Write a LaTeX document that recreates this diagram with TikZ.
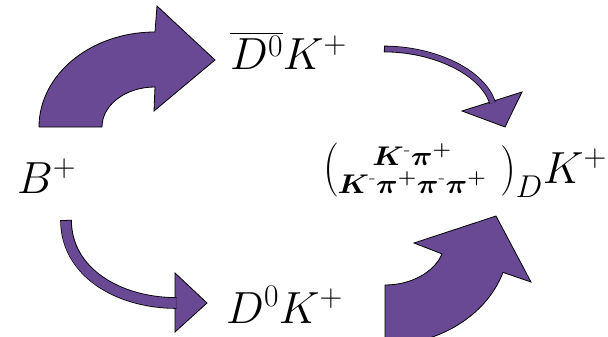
\documentclass[tikz,border=0pt]{standalone}
\usepackage{fix-cm}
\usepackage{amsmath,bm,graphicx}
\definecolor{arrowpurple}{RGB}{105,73,148}
\tikzset{
  bigarrow/.style={fill=arrowpurple, draw=black, line width=0.8pt, line join=miter},
  headtri/.style={fill=arrowpurple, draw=black, line width=0.8pt, line join=miter},
  lbl/.style={inner sep=0pt, font=\fontsize{45}{54}\selectfont},
  stk/.style={inner sep=0pt, font=\fontsize{27}{29}\selectfont},
}
\begin{document}
\begin{tikzpicture}[x=1pt,y=1pt]
\useasboundingbox (0,0) rectangle (608,-337);
\clip (0,0) rectangle (608,-337);

% labels
\node[lbl, anchor=base west] (B) at (17,-193) {$B^{+}$};
\node[lbl, anchor=base west] (Dbar) at (230,-70) {$\overline{D^{0}}K^{+}$};
\node[lbl, anchor=base west] (D) at (226,-323) {$D^{0}K^{+}$};
\node[lbl, anchor=base west] (lp) at (323,-183.5) {\scalebox{1}[1.2]{$($}};
\node[stk, anchor=base] (st1) at (412,-165) {\scalebox{1.12}[1]{$\bm{K^{\text{-}}\pi^{+}}$}};
\node[stk, anchor=base] (st2) at (412,-193) {\scalebox{1.12}[1]{$\bm{K^{\text{-}}\pi^{+}\pi^{\text{-}}\pi^{+}}$}};
\node[lbl, anchor=base east] (fin) at (607,-183) {$\scalebox{1}[1.12]{$)$}_{D}K^{+}$};

% big curved arrow B+ -> Dbar K+
\filldraw[bigarrow] (39,-127) arc[start angle=180, end angle=90, x radius=116, y radius=95]
  -- (157,-6) -- (215,-60) -- (154,-111) -- (155,-87)
  arc[start angle=90, end angle=180, x radius=53, y radius=40] -- cycle;

% big curved arrow D0 K+ -> final
\filldraw[bigarrow] (385,-285) arc[start angle=-90, end angle=-18, x radius=60, y radius=45]
  -- (414,-243) -- (496,-216) -- (531,-282) -- (503,-272.4)
  arc[start angle=-18, end angle=-90, x radius=124, y radius=105] -- cycle;

% thin arrow Dbar K+ -> final
\coordinate (t1s) at (384,-49);
\coordinate (t1e) at (492.5,-103);
\filldraw[headtri] (462,-111) -- (505,-127) -- (522,-92) -- cycle;
\draw[black, line width=6.6pt] (t1s) .. controls (434,-49) and (483,-72) .. (t1e);
\draw[arrowpurple, line width=5pt, shorten <=0.8pt] (t1s) .. controls (434,-49) and (483,-72) .. (t1e);

% thin arrow B+ -> D0 K+
\coordinate (t2s) at (66,-220);
\coordinate (t2e) at (176.5,-303);
\filldraw[headtri] (175,-273) -- (207,-303) -- (175,-332) -- cycle;
\draw[black, line width=11.6pt] (t2s) .. controls (66,-272) and (118,-303) .. (t2e);
\draw[arrowpurple, line width=10pt, shorten <=0.8pt] (t2s) .. controls (66,-272) and (118,-303) .. (t2e);
\end{tikzpicture}
\end{document}
